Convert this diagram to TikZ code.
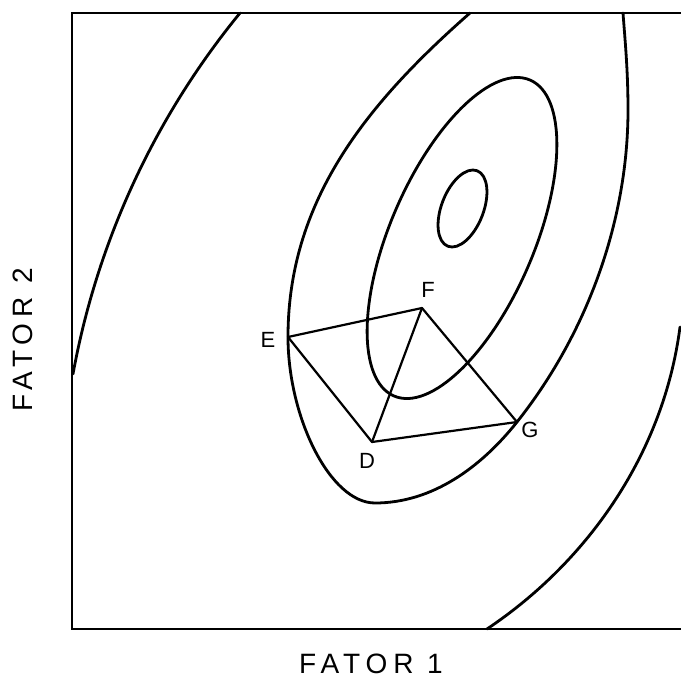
\documentclass[tikz,border=0pt]{standalone}
\usepackage{fontspec}
\setmainfont{Liberation Sans}
\begin{document}
\begin{tikzpicture}[x=1pt,y=-1pt,
  contour/.style={line width=2.8pt, line join=round, line cap=round},
  quad/.style={line width=2.2pt, line join=round, line cap=round},
  frame/.style={line width=2.8pt, line join=miter},
  lbl/.style={font=\fontsize{22}{26}\selectfont, inner sep=0pt},
  axislbl/.style={font=\fontsize{28}{32}\selectfont\addfontfeature{LetterSpace=21}, inner sep=0pt}]
\useasboundingbox (0,0) rectangle (681,680);
% frame (open on the right)
\draw[frame] (681,13) -- (72,13) -- (72,629) -- (681,629);
% outer left contour
\draw[contour] (240,13) .. controls (155.2,116.7) and (97.4,240.3) .. (73,374);
% outer right contour
\draw[contour] (487,629) .. controls (590,560) and (664,451) .. (680,327);
% second contour (cut by the top edge)
\draw[contour] (470,13)
  .. controls (364.8,105.4) and (288,202) .. (288,337)
  .. controls (288,417) and (330,503) .. (375,503)
  .. controls (432.5,503) and (481.2,467) .. (517,422)
  .. controls (589.6,330.5) and (628,216.8) .. (628,110)
  .. controls (628,70) and (625,40) .. (623,13);
% third contour
\draw[contour, rotate around={66.7:(462,238)}] (462,238) ellipse [x radius=172, y radius=72];
% innermost contour
\draw[contour, rotate around={68.8:(462.5,208.5)}] (462.5,208.5) ellipse [x radius=40.5, y radius=21];
% simplex points
\coordinate (D) at (372,442);
\coordinate (E) at (288,337);
\coordinate (F) at (422,308);
\coordinate (G) at (517,422);
\draw[quad] (E) -- (F) -- (G) -- (D) -- cycle;
\draw[quad] (D) -- (F);
\node[lbl] (lD) at (367,461) {D};
\node[lbl] (lE) at (268,340) {E};
\node[lbl] (lF) at (428,290) {F};
\node[lbl] (lG) at (530,430) {G};
\node[axislbl] (x1) at (371,664) {FATOR 1};
\node[axislbl, rotate=90] (x2) at (23,340) {FATOR 2};
\end{tikzpicture}
\end{document}
